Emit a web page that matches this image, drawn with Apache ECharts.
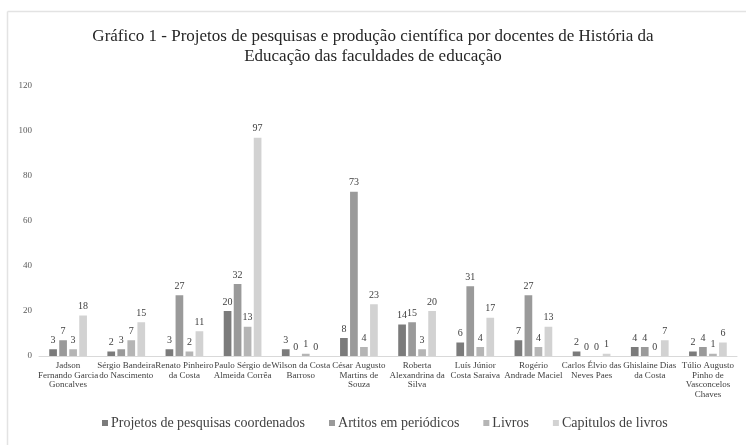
<!DOCTYPE html>
<html>
<head>
<meta charset="utf-8">
<script src="https://cdn.jsdelivr.net/npm/echarts@6/dist/echarts.min.js"></script>
<style>
  html, body { margin: 0; padding: 0; background: #fff; }
  #chart { width: 746px; height: 445px; }
</style>
</head>
<body>
<div id="chart"></div>
<script>
// Docentes (rótulos do eixo horizontal)
const docentes = [
  'Jadson\nFernando Garcia\nGoncalves',
  'Sérgio Bandeira\ndo Nascimento',
  'Renato Pinheiro\nda Costa',
  'Paulo Sérgio de\nAlmeida Corrêa',
  'Wilson da Costa\nBarroso',
  'César Augusto\nMartins de\nSouza',
  'Roberta\nAlexandrina da\nSilva',
  'Luís Júnior\nCosta Saraiva',
  'Rogério\nAndrade Maciel',
  'Carlos Élvio das\nNeves Paes',
  'Ghislaine Dias\nda Costa',
  'Túlio Augusto\nPinho de\nVasconcelos\nChaves'
];

// Séries
const projetos  = [3, 2, 3, 20, 3, 8, 14, 6, 7, 2, 4, 2];
const artigos   = [7, 3, 27, 32, 0, 73, 15, 31, 27, 0, 4, 4];
const livros    = [3, 7, 2, 13, 1, 4, 3, 4, 4, 0, 0, 1];
const capitulos = [18, 15, 11, 97, 0, 23, 20, 17, 13, 1, 7, 6];

const nomesSeries = [
  'Projetos de pesquisas coordenados',
  'Artitos em periódicos',
  'Livros',
  'Capitulos de livros'
];

// Eixo vertical
const yMin = 0, yMax = 120, yStep = 20;

const serif = "'Liberation Serif', 'Times New Roman', serif";
const cores = ['#7b7b7b', '#9a9a9a', '#b5b5b5', '#d2d2d2'];

function serie(nome, dados, cor) {
  return {
    name: nome,
    type: 'bar',
    data: dados,
    barWidth: 7.7,
    barGap: '30%',
    itemStyle: { color: cor },
    label: {
      show: true,
      position: 'top',
      distance: 4,
      fontFamily: serif,
      fontSize: 10,
      color: '#404040'
    }
  };
}

const chart = echarts.init(document.getElementById('chart'), null, { renderer: 'canvas' });
chart.setOption({
  backgroundColor: '#ffffff',
  animation: false,
  color: cores,
  title: {
    text: 'Gráfico 1 - Projetos de pesquisas e produção científica por docentes de História da\nEducação das faculdades de educação',
    left: 'center',
    top: 22,
    textStyle: {
      fontFamily: serif,
      fontSize: 17,
      fontWeight: 'normal',
      color: '#262626',
      lineHeight: 20,
      align: 'center'
    }
  },
  legend: {
    bottom: 10,
    left: 97,
    itemWidth: 6,
    itemHeight: 6,
    itemGap: 24,
    icon: 'rect',
    textStyle: { fontFamily: serif, fontSize: 14, color: '#404040', padding: [0, 0, 0, -2] },
    data: nomesSeries
  },
  grid: { left: 39, right: 9, top: 86, bottom: 89, containLabel: false },
  xAxis: {
    type: 'category',
    data: docentes,
    axisLine: { lineStyle: { color: '#d9d9d9', width: 1 } },
    axisTick: { show: false },
    axisLabel: {
      interval: 0,
      margin: 5,
      fontFamily: serif,
      fontSize: 9,
      lineHeight: 9.5,
      color: '#404040'
    }
  },
  yAxis: {
    type: 'value',
    min: yMin,
    max: yMax,
    interval: yStep,
    splitLine: { show: false },
    axisLine: { show: false },
    axisTick: { show: false },
    axisLabel: { fontFamily: serif, fontSize: 9, color: '#595959', margin: 7 }
  },
  graphic: [
    { type: 'line', shape: { x1: 7.5, y1: 11.5, x2: 746, y2: 11.5 }, style: { stroke: '#e3e3e3', lineWidth: 1.5 }, silent: true },
    { type: 'line', shape: { x1: 7.5, y1: 11.5, x2: 7.5, y2: 445 }, style: { stroke: '#e3e3e3', lineWidth: 1.5 }, silent: true }
  ],
  series: [
    serie(nomesSeries[0], projetos, cores[0]),
    serie(nomesSeries[1], artigos, cores[1]),
    serie(nomesSeries[2], livros, cores[2]),
    serie(nomesSeries[3], capitulos, cores[3])
  ]
});
</script>
</body>
</html>
